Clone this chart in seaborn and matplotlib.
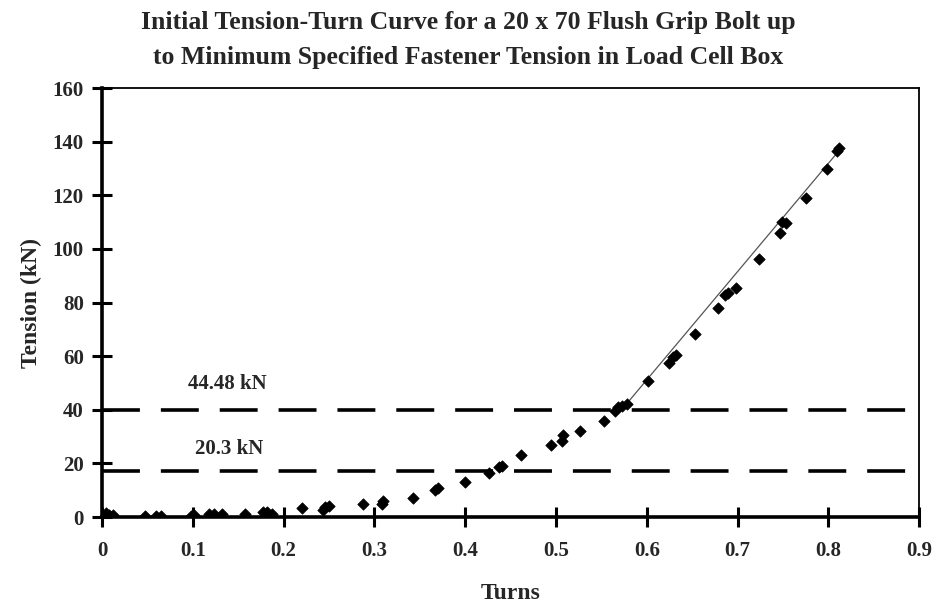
import matplotlib
matplotlib.use("Agg")
import matplotlib.pyplot as plt
import seaborn as sns
import pandas as pd

# --- datos ---
turns = [0.0, 0.004, 0.008, 0.012, 0.047, 0.06, 0.065, 0.098, 0.101,
         0.118, 0.123, 0.132, 0.158, 0.177, 0.182, 0.187, 0.22,
         0.243, 0.246, 0.25, 0.287, 0.308, 0.31, 0.343, 0.367, 0.37,
         0.4, 0.426, 0.437, 0.44, 0.462, 0.495, 0.507, 0.508, 0.527,
         0.553, 0.565, 0.568, 0.573, 0.578, 0.601, 0.624, 0.629, 0.632,
         0.653, 0.678, 0.686, 0.69, 0.698, 0.724, 0.747, 0.749, 0.753,
         0.775, 0.799, 0.809, 0.812]
tension = [0.3, 1.5, 0.8, 0.6, 0.3, 0.5, 0.3, 0.5, 0.8,
           1.3, 1.0, 1.3, 1.3, 1.7, 2.0, 1.3, 3.2,
           2.5, 3.6, 4.0, 5.0, 5.0, 6.0, 7.2, 10.0, 10.8,
           13.0, 16.3, 18.6, 19.2, 23.0, 27.0, 28.3, 30.5, 32.0,
           35.8, 39.5, 40.9, 41.5, 42.0, 50.6, 57.3, 59.6, 60.4,
           68.2, 77.9, 82.7, 83.6, 85.5, 96.3, 106.0, 110.0, 109.7,
           119.0, 130.0, 136.5, 137.5]

fit_turns = [0.576, 0.815]
fit_tension = [41.5, 138.0]

ref_lines = [40.0, 17.0]
ref_labels = ["44.48 kN", "20.3 kN"]
ref_label_pos = [(0.095, 49.5), (0.102, 25.5)]

xticks = [0, 0.1, 0.2, 0.3, 0.4, 0.5, 0.6, 0.7, 0.8, 0.9]
xticklabels = ["0", "0.1", "0.2", "0.3", "0.4", "0.5", "0.6", "0.7", "0.8", "0.9"]
yticks = [0, 20, 40, 60, 80, 100, 120, 140, 160]

df = pd.DataFrame({"Turns": turns, "Tension": tension})
df_fit = pd.DataFrame({"Turns": fit_turns, "Tension": fit_tension})

sns.set_theme(style="ticks")
plt.rcParams['font.family'] = ['Liberation Serif', 'DejaVu Serif']
plt.rcParams['font.weight'] = 'bold'

fig = plt.figure(figsize=(9.36, 6.04), dpi=100)
ax = fig.add_axes([0.109, 0.144, 0.873, 0.710])

# lineas de referencia discontinuas
for yv in ref_lines:
    ax.axhline(yv, color='black', linewidth=2.6, dashes=(10.5, 5.8), zorder=1)

# recta ajustada
sns.lineplot(data=df_fit, x="Turns", y="Tension", color='#555555',
             linewidth=0.9, ax=ax, zorder=2)

# puntos
sns.scatterplot(data=df, x="Turns", y="Tension", marker='D', s=34,
                color='black', edgecolor='black', linewidth=0.5, ax=ax, zorder=3)

for txt, (xp, yp) in zip(ref_labels, ref_label_pos):
    ax.text(xp, yp, txt, fontsize=15, fontweight='bold', va='center', ha='left')

ax.set_xlim(0, 0.9)
ax.set_ylim(0, 160)
ax.set_xticks(xticks)
ax.set_xticklabels(xticklabels)
ax.set_yticks(yticks)
ax.tick_params(axis='both', direction='inout', length=14, width=2.2,
               labelsize=15, color='black', pad=6)
ax.tick_params(axis='x', pad=10)
for lab in ax.get_xticklabels() + ax.get_yticklabels():
    lab.set_fontweight('bold')

for side in ['left', 'bottom']:
    ax.spines[side].set_linewidth(2.6)
for side in ['top', 'right']:
    ax.spines[side].set_linewidth(1.3)
for sp in ax.spines.values():
    sp.set_color('black')
    sp.set_zorder(4)

ax.set_xlabel("Turns", fontsize=17, fontweight='bold', labelpad=16)
ax.set_ylabel("Tension (kN)", fontsize=17, fontweight='bold', labelpad=8)

fig.text(0.5, 0.963, "Initial Tension-Turn Curve for a 20 x 70 Flush Grip Bolt up",
         ha='center', va='center', fontsize=18.5, fontweight='bold')
fig.text(0.5, 0.905, "to Minimum Specified Fastener Tension in Load Cell Box",
         ha='center', va='center', fontsize=18.5, fontweight='bold')

fig.savefig("out.png", dpi=100, facecolor='white')
